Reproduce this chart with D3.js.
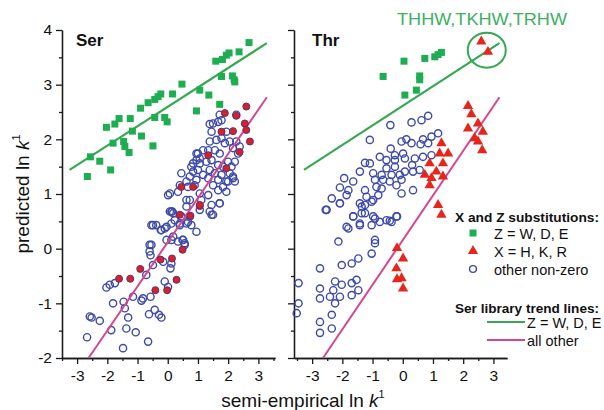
<!DOCTYPE html>
<html><head><meta charset="utf-8">
<script src="https://cdn.jsdelivr.net/npm/d3@7"></script>
<style>
html,body{margin:0;padding:0;background:#fff;}
svg{display:block;font-family:"Liberation Sans",Arial,Helvetica,sans-serif;}
</style></head>
<body>
<script>
// ---------- data ----------
const panels = ["Ser", "Thr"];
const yTicks = [-2, -1, 0, 1, 2, 3, 4];
const xTicks = [-3, -2, -1, 0, 1, 2, 3];
const legendTitles = ["X and Z substitutions:", "Ser library trend lines:"];
const legendMarkers = ["Z = W, D, E", "X = H, K, R", "other non-zero"];
const legendLines = ["Z = W, D, E", "all other"];
const annotation = "THHW,TKHW,TRHW";

// Ser panel
const serWDE = [[-2.66,1.32],[-2.56,1.68],[-2.25,1.60],[-1.89,1.44],[-2.03,2.22],[-1.75,2.28],[-1.61,2.38],[-1.81,1.93],[-1.46,1.96],[-1.42,1.87],[-1.28,1.76],[-1.24,2.38],[-1.17,2.15],[-0.87,2.06],[-0.90,2.57],[-0.65,2.67],[-0.49,1.88],[-0.43,2.73],[-0.32,2.78],[-0.23,2.83],[-0.43,2.40],[-0.10,2.40],[-0.02,2.32],[0.16,2.83],[0.47,3.01],[0.95,2.52],[1.06,2.90],[1.36,2.81],[1.72,2.64],[1.59,3.43],[1.81,3.46],[1.94,3.54],[2.03,3.58],[2.36,3.60],[1.78,3.15],[2.14,3.16],[2.20,3.09],[2.69,3.77],[2.22,3.05]];
const serHKR = [[-1.61,-0.55],[-1.24,-0.55],[-0.91,-0.37],[-0.41,-0.76],[-0.24,-0.20],[0.14,-0.18],[0.29,-0.57],[-0.02,-0.76],[0.49,-0.02],[0.75,0.60],[1.06,0.78],[0.45,1.13],[0.84,1.13],[1.06,0.80],[0.40,0.62],[2.60,2.60],[1.89,2.48],[2.27,2.43],[2.55,2.29],[1.78,2.14],[2.16,2.15],[2.60,2.17],[2.72,1.96],[2.38,1.77],[1.34,1.71],[1.94,1.47]];
const serOther = [[-2.67,-1.62],[-2.58,-1.24],[-2.52,-1.26],[-2.25,-1.32],[-2.03,-0.71],[-1.81,-1.00],[-1.75,-0.63],[-1.87,-1.49],[-1.46,-0.97],[-1.42,-1.09],[-1.48,-1.82],[-1.37,-1.46],[-1.31,-1.26],[-1.15,-0.88],[-1.06,-1.53],[-0.87,-0.95],[-0.82,-0.91],[-0.65,-1.70],[-0.62,-1.20],[-0.57,-0.88],[-0.60,0.07],[-0.57,-0.12],[-0.49,0.43],[-0.43,-1.12],[-0.29,-1.21],[-0.21,-1.26],[-0.23,0.34],[-0.10,-0.60],[-0.04,0.40],[0.01,-0.70],[0.09,-0.36],[0.12,0.16],[0.15,0.68],[0.18,0.22],[0.23,0.52],[0.34,0.13],[0.40,0.43],[0.49,0.16],[0.56,0.10],[0.62,0.46],[0.73,0.59],[0.78,0.43],[0.95,0.31],[1.06,0.71],[1.45,0.62],[1.72,0.83],[-0.49,-0.30],[-0.71,-0.48],[-1.92,-0.66],
[0.01,0.98],[0.12,0.68],[0.34,1.04],[0.40,1.16],[0.67,1.13],[0.89,1.16],[1.06,1.01],[1.34,0.98],[1.50,1.16],[1.67,1.07],[1.83,1.13],[1.94,1.04],[1.72,0.83],[1.45,0.80],[1.39,0.68],[1.50,0.62],[1.11,0.89],[0.73,0.89],[0.62,0.77],[0.07,0.68],[0.18,0.65],[0.45,0.59],[0.67,0.49],[0.40,0.46],[0.12,0.46],[-0.10,0.37],[-0.21,0.34],[-0.38,0.43],[-0.54,0.43],[0.51,0.16],[0.56,0.07],[-0.04,0.16],[-0.54,0.07],[-0.60,-0.05],[-0.15,-0.24],[0.12,-0.27],
[1.50,2.29],[1.67,2.32],[1.78,2.35],[1.45,2.14],[1.94,2.14],[1.39,1.96],[1.61,1.99],[1.78,2.02],[1.89,1.93],[2.05,1.96],[2.16,1.84],[2.27,1.96],[2.33,1.74],[2.38,1.87],[1.00,1.74],[1.17,1.80],[1.34,1.80],[1.56,1.80],[1.72,1.74],[0.95,1.62],[0.84,1.56],[1.06,1.56],[1.28,1.59],[1.45,1.62],[1.67,1.53],[1.83,1.50],[2.00,1.59],[2.11,1.50],[2.22,1.59],[0.84,1.41],[1.00,1.44],[1.17,1.35],[1.39,1.44],[1.56,1.38],[1.78,1.35],[2.05,1.38],[2.16,1.29],[0.73,1.32],[0.62,1.23],[0.95,1.26],[1.34,1.29],[1.67,1.26],[2.00,1.23],[2.22,1.23],
[1.39,2.28],[1.72,2.45],[2.27,2.45],[0.95,1.74],[1.06,1.65],[0.78,1.50],[0.45,1.38],[0.07,1.01],[0.62,0.89],[1.94,1.23],[2.16,1.32]];

// Thr panel
const thrWDE = [[-0.65,3.15],[0.04,3.43],[0.07,2.81],[0.45,2.90],[0.56,3.16],[0.56,3.09],[0.73,3.48],[1.06,3.51],[1.28,3.59],[1.17,3.55]];
const thrHKR = [[2.60,3.79],[2.82,3.60],[2.16,2.61],[2.27,2.46],[2.49,2.29],[2.16,2.20],[2.65,2.14],[2.38,2.02],[2.49,1.96],[2.63,1.80],[1.28,1.93],[1.50,1.74],[1.22,1.74],[1.33,1.56],[0.89,1.56],[1.11,1.41],[0.73,1.35],[1.33,1.32],[0.95,1.29],[0.89,1.16],[1.17,0.80],[1.28,0.62],[-0.19,0.01],[0.01,-0.18],[-0.21,-0.36],[-0.04,-0.54],[-0.19,-0.56],[0.01,-0.73]];
const thrOther = [[0.84,2.43],[0.62,2.35],[0.29,2.31],[-0.41,2.26],[-1.09,1.99],[1.17,2.11],[0.95,2.05],[0.67,2.00],[0.29,1.93],[-0.04,1.96],[0.12,2.00],[0.59,1.91],[0.84,1.93],[-0.40,1.83],[0.01,1.74],[-0.26,1.71],[-0.76,1.68],[-0.54,1.62],[-0.26,1.62],[0.07,1.65],[0.40,1.65],[0.67,1.68],[0.95,1.71],[0.31,1.53],[-0.26,1.50],[-0.54,1.47],[-1.25,1.57],[-1.09,1.56],[-1.42,1.41],[-0.98,1.38],[-0.70,1.35],[-0.37,1.35],[-0.10,1.35],[0.07,1.41],[0.34,1.41],[0.56,1.44],[-1.94,1.29],[-1.64,1.23],[-0.92,1.26],[-0.65,1.26],[-0.43,1.23],[-0.21,1.16],[-0.04,1.26],[-2.08,1.12],[-1.80,1.07],[-1.25,1.07],[-0.87,1.13],[-0.70,1.10],[0.34,1.07],[-2.35,0.92],[-1.86,0.98],[-1.20,0.95],[-0.81,0.98],[-0.04,1.01],[-2.08,0.83],[-1.42,0.83],[-0.98,0.89],[-2.55,0.71],[-1.36,0.77],[-1.64,0.59],[-1.25,0.65],[-0.92,0.55],[-0.54,0.52],[-0.21,0.59],[-1.86,0.40],[-1.42,0.43],[-1.03,0.43],[-0.37,0.49],
[-2.52,0.71],[-2.08,0.83],[-1.64,0.59],[-1.36,0.65],[-1.25,0.80],[-1.42,0.46],[-1.80,0.37],[-1.03,0.86],[-0.98,0.59],[-0.76,0.49],[-0.43,0.51],[-0.19,0.59],[-2.13,0.13],[-0.92,0.16],[-0.92,0.10],[-1.03,-0.09],[-1.47,-0.18],[-1.69,-0.27],[-2.02,-0.30],[-2.74,-0.36],[-3.45,-0.63],[-2.74,-0.73],[-2.24,-0.60],[-2.02,-0.66],[-1.69,-0.63],[-1.53,-0.57],[-1.47,-0.76],[-2.30,-0.76],[-2.74,-0.91],[-2.41,-0.88],[-2.08,-0.88],[-1.69,-0.85],[-3.45,-1.00],[-2.24,-1.00],[-3.51,-1.18],[-2.35,-1.21],[-2.74,-1.34],[-2.35,-1.46],[-2.74,-1.54]];

// trend lines (Ser library), endpoints per panel
const greenTrend = [[[-3.25,1.44],[3.28,3.76]], [[-3.27,1.44],[3.20,3.76]]];
const pinkTrend  = [[[-2.62,-2.0],[3.28,2.77]], [[-2.64,-2.0],[3.20,2.77]]];

// ---------- drawing ----------
const W = 604, H = 410;
const C = {green:"#1fad52", gline:"#36a852", pink:"#d6468f", red:"#e6261d", blue:"#3d4aa8", axis:"#1a1a1a"};
const svg = d3.select("body").append("svg").attr("width", W).attr("height", H);

const y = d3.scaleLinear().domain([-2, 4]).range([358, 30]);
const xs = [
  d3.scaleLinear().domain([-3.5, 3.55]).range([62, 275]),
  d3.scaleLinear().domain([-3.6, 3.45]).range([294, 507])
];
const data = [
  {wde: serWDE, hkr: serHKR, other: serOther},
  {wde: thrWDE, hkr: thrHKR, other: thrOther}
];
const halfY = d3.range(-1.5, 4, 1);
const halfX = [-3.5, -2.5, -1.5, -0.5, 0.5, 1.5, 2.5, 3.5];

const sq = 7;
const tri = d3.symbol().type(d3.symbolTriangle).size(46);
const line = d3.line();
const fmt = v => v < 0 ? "-" + Math.abs(v) : String(v);

panels.forEach((name, i) => {
  const x = xs[i];
  const g = svg.append("g");
  const d = data[i];

  // axes
  const ya = g.append("g").attr("transform", `translate(${x.range()[0]},0)`)
    .call(d3.axisLeft(y).tickValues(yTicks).tickSize(6).tickSizeOuter(0).tickPadding(4)
      .tickFormat(i === 0 ? fmt : () => ""));
  const yam = g.append("g").attr("transform", `translate(${x.range()[0]},0)`)
    .call(d3.axisLeft(y).tickValues(halfY).tickSize(3).tickSizeOuter(0).tickFormat(() => ""));
  const xa = g.append("g").attr("transform", `translate(0,${y.range()[0]})`)
    .call(d3.axisBottom(x).tickValues(xTicks).tickSize(6).tickSizeOuter(0).tickPadding(6).tickFormat(fmt));
  const xam = g.append("g").attr("transform", `translate(0,${y.range()[0]})`)
    .call(d3.axisBottom(x).tickValues(halfX.filter(v => v >= x.domain()[0] && v <= x.domain()[1])).tickSize(3).tickSizeOuter(0).tickFormat(() => ""));
  [ya, yam, xa, xam].forEach(a => {
    a.selectAll("path,line").attr("stroke", C.axis).attr("stroke-width", 1.3);
    a.selectAll("text").attr("font-size", 15.5).attr("fill", "#111").attr("font-family", "Liberation Sans, Arial, sans-serif");
  });

  // other non-zero circles
  g.append("g").selectAll("circle").data(d.other).join("circle")
    .attr("cx", p => x(p[0])).attr("cy", p => y(p[1])).attr("r", 3.6)
    .attr("fill", "none").attr("stroke", C.blue).attr("stroke-width", 1.4);

  // trend lines
  g.append("path").attr("d", line(greenTrend[i].map(p => [x(p[0]), y(p[1])])))
    .attr("stroke", C.gline).attr("stroke-width", 2.2).attr("fill", "none");
  g.append("path").attr("d", line(pinkTrend[i].map(p => [x(p[0]), y(p[1])])))
    .attr("stroke", C.pink).attr("stroke-width", 2).attr("fill", "none");

  // Z = W,D,E squares
  g.append("g").selectAll("rect").data(d.wde).join("rect")
    .attr("x", p => x(p[0]) - sq/2).attr("y", p => y(p[1]) - sq/2)
    .attr("width", sq).attr("height", sq).attr("fill", C.green);

  // X = H,K,R
  if (i === 0) {
    g.append("g").selectAll("circle").data(d.hkr).join("circle")
      .attr("cx", p => x(p[0])).attr("cy", p => y(p[1])).attr("r", 3.5)
      .attr("fill", "#d2232a").attr("stroke", "#6b2a6e").attr("stroke-width", 1);
  } else {
    g.append("g").selectAll("path").data(d.hkr).join("path")
      .attr("transform", p => `translate(${x(p[0])},${y(p[1])})`)
      .attr("d", tri).attr("fill", C.red);
  }

  // panel title
  g.append("text").attr("x", x.range()[0] + (i === 0 ? 14 : 18)).attr("y", 46)
    .attr("font-size", 17).attr("font-weight", "bold").attr("fill", "#111").text(name);
});

// annotation in Thr panel
svg.append("text").attr("x", 482).attr("y", 25).attr("text-anchor", "middle")
  .attr("font-size", 16.5).attr("fill", "#3cb064").attr("textLength", 170).attr("lengthAdjust", "spacingAndGlyphs")
  .text(annotation);
svg.append("ellipse").attr("cx", xs[1](2.78)).attr("cy", y(3.63)).attr("rx", 19).attr("ry", 17.5)
  .attr("fill", "none").attr("stroke", C.gline).attr("stroke-width", 2);

// legend
const lg = svg.append("g").attr("font-size", 14.5).attr("fill", "#111");
lg.append("text").attr("x", 455).attr("y", 222).attr("font-weight", "bold").attr("font-size", 13.5)
  .attr("textLength", 144).attr("lengthAdjust", "spacingAndGlyphs").text(legendTitles[0]);
const ly = [233, 251, 269];
lg.append("rect").attr("x", 473 - 3.5).attr("y", ly[0] - 3.5).attr("width", 7).attr("height", 7).attr("fill", C.green);
lg.append("path").attr("transform", `translate(473,${ly[1]})`).attr("d", tri).attr("fill", C.red);
lg.append("circle").attr("cx", 473).attr("cy", ly[2]).attr("r", 3.4).attr("fill", "none").attr("stroke", C.blue).attr("stroke-width", 1.4);
legendMarkers.forEach((t, k) => {
  lg.append("text").attr("x", 494).attr("y", ly[k] + 5.5).text(t);
});
lg.append("text").attr("x", 455).attr("y", 313).attr("font-weight", "bold").attr("font-size", 13.5)
  .attr("textLength", 144).attr("lengthAdjust", "spacingAndGlyphs").text(legendTitles[1]);
const lly = [322, 340];
const lcol = [C.gline, C.pink];
legendLines.forEach((t, k) => {
  lg.append("line").attr("x1", 487).attr("x2", 525).attr("y1", lly[k]).attr("y2", lly[k])
    .attr("stroke", lcol[k]).attr("stroke-width", 2.2);
  lg.append("text").attr("x", 527).attr("y", lly[k] + 5.5).text(t);
});

// axis titles
const xt = svg.append("text").attr("x", 303).attr("y", 407).attr("text-anchor", "middle")
  .attr("font-size", 19).attr("fill", "#111");
xt.append("tspan").text("semi-empirical ln ");
xt.append("tspan").attr("font-style", "italic").text("k");
xt.append("tspan").attr("font-size", 11).attr("dy", -9).text("1");

const yt = svg.append("text").attr("transform", "translate(29,194) rotate(-90)").attr("text-anchor", "middle")
  .attr("font-size", 19).attr("fill", "#111");
yt.append("tspan").text("predicted ln ");
yt.append("tspan").attr("font-style", "italic").text("k");
yt.append("tspan").attr("font-size", 11).attr("dy", -9).text("1");
</script>
</body></html>
